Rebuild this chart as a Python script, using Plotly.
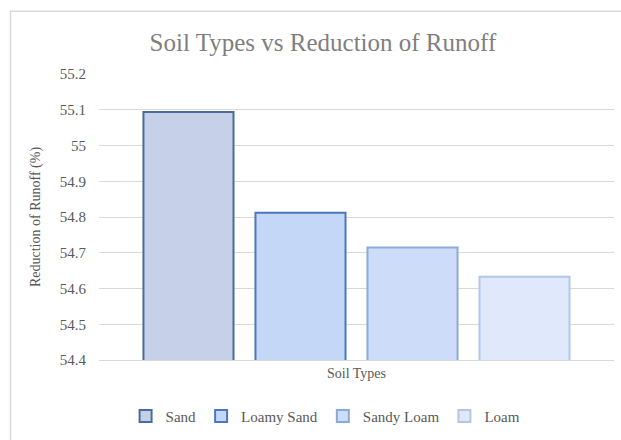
import plotly.graph_objects as go

category = ["Soil Types"]
series_names = ["Sand", "Loamy Sand", "Sandy Loam", "Loam"]
series_values = [55.094, 54.812, 54.715, 54.633]
fill_colors = ["#C6D0E9", "#C4D7F7", "#CCDCF9", "#E0E9FB"]
line_colors = ["#4A6C9B", "#4A78BE", "#8EA9D5", "#B3C6E6"]
y_ticks = [54.4, 54.5, 54.6, 54.7, 54.8, 54.9, 55.0, 55.1, 55.2]
y_tick_labels = ["54.4", "54.5", "54.6", "54.7", "54.8", "54.9", "55", "55.1", "55.2"]

FONT = "Liberation Serif"

fig = go.Figure()
for name, val, fc, lc in zip(series_names, series_values, fill_colors, line_colors):
    fig.add_trace(go.Bar(
        x=category, y=[val], name=name,
        marker=dict(color=fc, line=dict(color=lc, width=2)),
    ))

fig.update_layout(
    width=621, height=440,
    margin=dict(l=99, r=7, t=74, b=77),
    paper_bgcolor="white", plot_bgcolor="white",
    barmode="group", bargap=0.13, bargroupgap=0.196,
    font=dict(family=FONT, size=14, color="#595959"),
    title=dict(text="Soil Types vs Reduction of Runoff", x=0.52, xanchor="center",
               y=0.905, yref="container", yanchor="middle",
               font=dict(family=FONT, size=25, color="#7F7F7F")),
    legend=dict(orientation="h", x=0.44, xanchor="center", y=-0.197, yanchor="middle",
                font=dict(family=FONT, size=15, color="#595959"),
                itemwidth=30, traceorder="normal"),
    xaxis=dict(showgrid=False, showline=True, linecolor="#D9D9D9", linewidth=1,
               ticks="", tickfont=dict(family=FONT, size=14, color="#595959")),
    yaxis=dict(range=[54.4, 55.2], tickvals=y_ticks, ticktext=y_tick_labels,
               showgrid=True, gridcolor="#D9D9D9", gridwidth=1, zeroline=False,
               showline=False, ticklabelstandoff=12,
               tickfont=dict(family=FONT, size=15, color="#595959"),
               title=dict(text="Reduction of Runoff (%)",
                          font=dict(family=FONT, size=14, color="#595959"))),
    shapes=[dict(type="rect", xref="paper", yref="paper",
                 x0=(10.5 - 99) / 515, x1=1.2, y0=-1, y1=(363 - 10.5) / 289,
                 line=dict(color="#D9D9D9", width=1.5), fillcolor="rgba(0,0,0,0)",
                 layer="below")],
)

fig.write_html("out.html", config={"displayModeBar": False},
               post_script="document.body.style.margin='0';document.body.style.padding='0';")
